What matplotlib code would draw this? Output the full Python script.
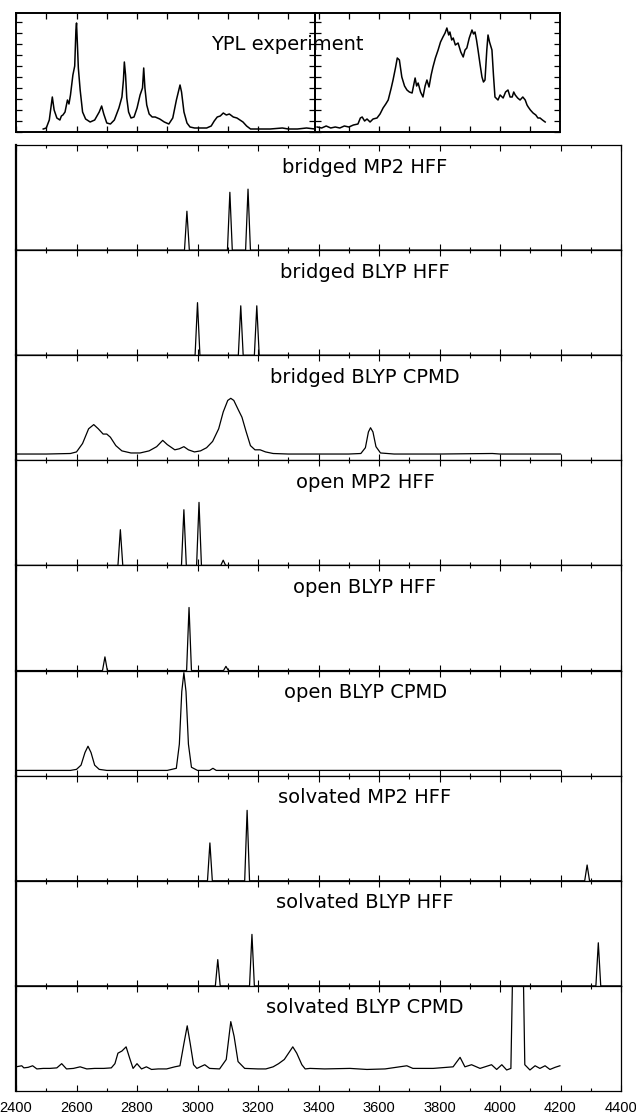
import matplotlib.pyplot as plt
from matplotlib.ticker import MultipleLocator, NullFormatter
import numpy as np

# ---- YPL experiment (top box), two halves with their own intensity scale
exp_low_x = [2490, 2500, 2510, 2520, 2526, 2535, 2545, 2550, 2555, 2562, 2566, 2570, 2575, 2580,
             2588, 2594, 2598, 2600, 2603, 2606, 2612, 2620, 2630, 2645, 2660, 2675, 2683, 2690,
             2700, 2712, 2725, 2740, 2750, 2755, 2758, 2762, 2766, 2772, 2780, 2790, 2800, 2810,
             2818, 2822, 2826, 2832, 2840, 2850, 2860, 2875, 2890, 2905, 2918, 2930, 2938, 2942,
             2947, 2955, 2965, 2975, 2990, 3010, 3030, 3045, 3055, 3065, 3075, 3085, 3095, 3105,
             3118, 3130, 3140, 3150, 3162, 3175, 3200, 3240, 3280, 3300, 3330, 3360, 3388]
exp_low_y = [3, 4, 12, 35, 22, 14, 12, 16, 17, 20, 26, 32, 28, 37,
             57, 66, 102, 109, 87, 64, 42, 20, 13, 10, 12, 20, 26, 18,
             9, 8, 12, 24, 35, 52, 70, 57, 34, 20, 14, 15, 24, 37,
             44, 64, 44, 27, 18, 15, 15, 13, 10, 8, 14, 32, 42, 47,
             40, 20, 9, 5, 4, 4, 4, 6, 11, 15, 16, 19, 17, 18,
             15, 14, 12, 10, 6, 3, 3, 3, 4, 3, 3, 4, 3]
exp_high_x = [3395, 3410, 3425, 3440, 3455, 3470, 3485, 3500, 3515, 3530, 3538, 3544, 3552, 3560,
              3570, 3580, 3593, 3603, 3613, 3622, 3630, 3640, 3646, 3654, 3660, 3667, 3675, 3684,
              3692, 3700, 3709, 3715, 3719, 3724, 3729, 3737, 3745, 3752, 3758, 3765, 3772, 3778,
              3786, 3795, 3803, 3811, 3818, 3824, 3830, 3834, 3840, 3845, 3852, 3861, 3870, 3878,
              3884, 3890, 3898, 3907, 3912, 3917, 3922, 3927, 3934, 3940, 3945, 3950, 3956, 3960,
              3965, 3973, 3978, 3983, 3993, 4000, 4010, 4018, 4026, 4033, 4040, 4045, 4050, 4058,
              4066, 4075, 4083, 4089, 4093, 4100, 4109, 4118, 4125, 4132, 4140, 4149]
exp_high_y = [5, 4, 6, 4, 5, 4, 6, 5, 7, 8, 14, 15, 11, 13,
              10, 13, 14, 18, 24, 28, 32, 44, 52, 64, 74, 72, 55, 46,
              42, 40, 39, 48, 54, 46, 49, 40, 35, 46, 52, 45, 57, 65,
              74, 82, 90, 95, 99, 104, 97, 100, 92, 94, 87, 89, 80, 75,
              82, 84, 94, 102, 98, 100, 92, 82, 67, 55, 50, 52, 82, 97,
              90, 82, 57, 35, 32, 37, 34, 40, 42, 35, 35, 40, 37, 34,
              32, 35, 32, 27, 25, 22, 19, 17, 14, 14, 12, 10]

# ---- bridged BLYP CPMD
bcp_x = [2400, 2500, 2580, 2600, 2620, 2640, 2657, 2672, 2688, 2700, 2712, 2730, 2750, 2780,
         2810, 2840, 2865, 2885, 2900, 2925, 2940, 2955, 2970, 2990, 3010, 3030, 3050, 3070,
         3085, 3100, 3110, 3120, 3135, 3147, 3160, 3175, 3190, 3207, 3225, 3250, 3300, 3400,
         3500, 3540, 3555, 3565, 3572, 3580, 3590, 3605, 3650, 3800, 3975, 4000, 4200]
bcp_y = [0.06, 0.06, 0.065, 0.08, 0.16, 0.30, 0.34, 0.30, 0.25, 0.25, 0.22, 0.14, 0.09, 0.07,
         0.07, 0.09, 0.13, 0.19, 0.15, 0.10, 0.11, 0.13, 0.10, 0.08, 0.09, 0.12, 0.18, 0.30,
         0.46, 0.57, 0.59, 0.57, 0.48, 0.41, 0.28, 0.14, 0.10, 0.10, 0.08, 0.065, 0.06, 0.06,
         0.06, 0.065, 0.12, 0.27, 0.31, 0.27, 0.13, 0.07, 0.06, 0.06, 0.065, 0.06, 0.06]

# ---- open BLYP CPMD
ocp_x = [2400, 2500, 2580, 2600, 2615, 2628, 2638, 2648, 2660, 2675, 2700, 2800, 2900, 2930,
         2940, 2948, 2955, 2962, 2970, 2980, 3000, 3040, 3051, 3062, 3100, 3200, 3500, 4200]
ocp_y = [0.05, 0.05, 0.05, 0.06, 0.10, 0.22, 0.28, 0.22, 0.10, 0.06, 0.05, 0.05, 0.05, 0.07,
         0.30, 0.80, 0.98, 0.80, 0.30, 0.08, 0.05, 0.05, 0.07, 0.05, 0.05, 0.05, 0.05, 0.05]

# ---- solvated BLYP CPMD
scp_x = [2400, 2419, 2426, 2440, 2455, 2469, 2490, 2512, 2535, 2551, 2567, 2590, 2612, 2634,
         2660, 2690, 2715, 2727, 2737, 2750, 2764, 2776, 2787, 2800, 2815, 2831, 2848, 2870,
         2898, 2925, 2942, 2955, 2966, 2976, 2987, 2998, 3024, 3040, 3073, 3095, 3110, 3121,
         3134, 3156, 3200, 3226, 3250, 3268, 3287, 3315, 3328, 3345, 3356, 3372, 3420, 3504,
         3560, 3620, 3692, 3712, 3779, 3845, 3868, 3884, 3906, 3934, 3972, 3989, 4006, 4022,
         4036, 4044, 4075, 4082, 4099, 4116, 4132, 4149, 4165, 4182, 4198]
scp_y = [0.23, 0.24, 0.22, 0.225, 0.24, 0.21, 0.215, 0.215, 0.22, 0.26, 0.21, 0.215, 0.23, 0.21,
         0.215, 0.215, 0.22, 0.26, 0.36, 0.38, 0.42, 0.31, 0.215, 0.26, 0.21, 0.23, 0.205, 0.21,
         0.21, 0.23, 0.24, 0.45, 0.62, 0.45, 0.25, 0.215, 0.25, 0.215, 0.21, 0.30, 0.66, 0.52,
         0.28, 0.215, 0.21, 0.21, 0.23, 0.26, 0.30, 0.42, 0.36, 0.25, 0.21, 0.215, 0.21, 0.215,
         0.205, 0.21, 0.24, 0.215, 0.215, 0.23, 0.32, 0.23, 0.25, 0.215, 0.25, 0.205, 0.25, 0.20,
         0.215, 1.5, 1.5, 0.25, 0.20, 0.24, 0.215, 0.24, 0.205, 0.225, 0.24]

# ---- harmonic force-field spectra: peak positions (cm-1) and heights
bmp2_pos, bmp2_h = [2965, 3107, 3167], [0.37, 0.55, 0.58]
bblyp_pos, bblyp_h = [3000, 3143, 3196], [0.50, 0.47, 0.47]
omp2_pos, omp2_h = [2745, 2955, 3005, 3085], [0.34, 0.53, 0.60, 0.05]
oblyp_pos, oblyp_h = [2694, 2972, 3094], [0.13, 0.60, 0.04]
smp2_pos, smp2_h = [3041, 3164, 4288], [0.36, 0.67, 0.15]
sblyp_pos, sblyp_h = [3067, 3180, 4325], [0.25, 0.49, 0.41]

labels = ["bridged MP2 HFF", "bridged BLYP HFF", "bridged BLYP CPMD",
          "open MP2 HFF", "open BLYP HFF", "open BLYP CPMD",
          "solvated MP2 HFF", "solvated BLYP HFF", "solvated BLYP CPMD"]


def sticks(pos, h, hw=8):
    xs, ys = [2400], [0]
    for c, v in zip(pos, h):
        xs += [c - hw, c, c + hw]
        ys += [0, v, 0]
    xs.append(4400)
    ys.append(0)
    return xs, ys


panels = [sticks(bmp2_pos, bmp2_h), sticks(bblyp_pos, bblyp_h), (bcp_x, bcp_y),
          sticks(omp2_pos, omp2_h), sticks(oblyp_pos, oblyp_h), (ocp_x, ocp_y),
          sticks(smp2_pos, smp2_h), sticks(sblyp_pos, sblyp_h), (scp_x, scp_y)]

W, H = 636, 1119
fig = plt.figure(figsize=(W / 100, H / 100), dpi=100)
label_font = ['DejaVu Sans']
tick_font = ['Liberation Sans', 'DejaVu Sans']

# top experiment box
top_px, bot_px = 13, 132
ax_l = fig.add_axes([16 / W, 1 - bot_px / H, 299 / W, (bot_px - top_px) / H])
ax_r = fig.add_axes([315 / W, 1 - bot_px / H, 245 / W, (bot_px - top_px) / H])
ax_l.plot(exp_low_x, exp_low_y, color='black', lw=1.1)
ax_r.plot(exp_high_x, exp_high_y, color='black', lw=1.1)
ax_l.set_xlim(2400, 3388)
ax_r.set_xlim(3388, 4198)
for a in (ax_l, ax_r):
    a.set_ylim(0, 119)
    a.patch.set_alpha(0)
    a.xaxis.set_major_locator(MultipleLocator(100))
    a.yaxis.set_major_locator(MultipleLocator(11))
    a.tick_params(direction='in', top=True, bottom=True, left=True, right=True,
                  length=4, width=0.9, labelbottom=False, labelleft=False)
    for s in a.spines.values():
        s.set_linewidth(1.4)
fig.text(287 / W, 1 - 44 / H, "YPL experiment", ha='center', va='center',
         fontsize=14, family=label_font, zorder=10)

# stacked simulated spectra
ph = (1091 - 145) / 9
for i, (xs, ys) in enumerate(panels):
    t = 145 + i * ph
    ax = fig.add_axes([16 / W, 1 - (t + ph) / H, 605 / W, ph / H])
    ax.plot(xs, ys, color='black', lw=0.9)
    ax.set_xlim(2400, 4400)
    ax.set_ylim(0, 1)
    ax.set_yticks([])
    ax.xaxis.set_major_locator(MultipleLocator(200))
    ax.xaxis.set_minor_locator(MultipleLocator(100))
    ax.tick_params(axis='x', which='both', direction='in', top=True, bottom=True, width=0.8)
    ax.tick_params(axis='x', which='major', length=4)
    ax.tick_params(axis='x', which='minor', length=2)
    ax.spines['left'].set_linewidth(1.6)
    for s in ('top', 'bottom', 'right'):
        ax.spines[s].set_linewidth(0.9)
    ax.text(3554, 0.79, labels[i], ha='center', va='center', fontsize=14, family=label_font)
    if i < 8:
        ax.xaxis.set_major_formatter(NullFormatter())
    else:
        ax.tick_params(axis='x', which='major', pad=7, labelsize=10.5)
        for lab in ax.get_xticklabels():
            lab.set_family(tick_font)

fig.savefig("out.png", dpi=100)
